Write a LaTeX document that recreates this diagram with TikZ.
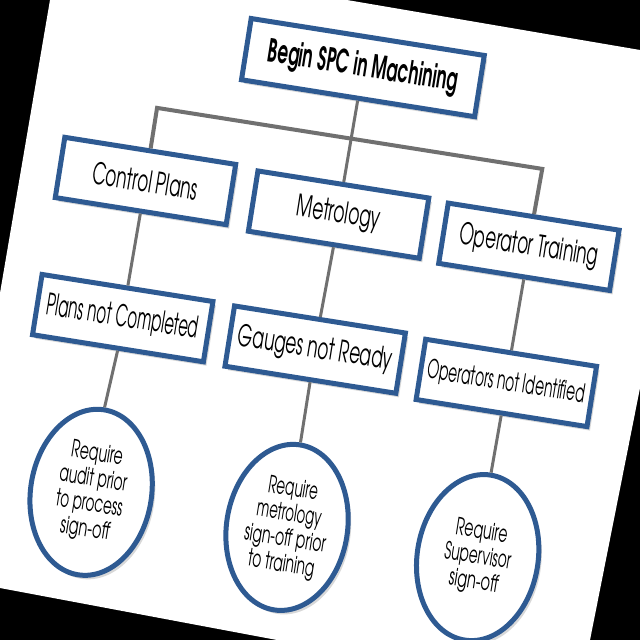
\documentclass[tikz,border=0pt]{standalone}
\usepackage{fontspec}
\usepackage{graphicx}
\newfontfamily\gothic{TeX Gyre Adventor}
\newcommand\fitw[2]{\resizebox{#1bp}{\height}{#2}}
\usetikzlibrary{shapes.geometric,shadows}
\definecolor{boxblue}{RGB}{46,90,146}
\definecolor{linegray}{RGB}{112,112,112}
\begin{document}
\begin{tikzpicture}[x=1bp,y=-1bp,
  shad/.style={drop shadow={shadow xshift=3bp,shadow yshift=-4bp,opacity=0.3}},
  box/.style={draw=boxblue,line width=5bp,fill=white,rectangle,inner sep=2bp,
    minimum width=173bp,minimum height=61bp,transform shape,shad,
    font=\gothic\fontsize{30}{32}\selectfont},
  topbox/.style={box,minimum width=236bp,minimum height=62bp,
    font=\gothic\bfseries\fontsize{32}{34}\selectfont},
  smallbox/.style={box,font=\gothic\fontsize{26}{28}\selectfont},
  oval/.style={draw=boxblue,line width=5bp,fill=white,ellipse,inner sep=0pt,
    minimum width=121bp,minimum height=167bp,transform shape,shad,align=center,
    font=\gothic\fontsize{24}{25.5}\selectfont},
  conn/.style={draw=linegray,line width=3bp},
  barline/.style={draw=linegray,line width=4bp,line join=miter}]
\useasboundingbox (0,0) rectangle (640,640);
\fill[black] (0,0) rectangle (640,640);
\fill[white] (50,0) -- (347,0) -- (640,50) -- (640,388) -- (590,640)
  -- (277,640) -- (0,588) -- (0,293) -- cycle;
\begin{scope}[rotate=-9]
  \coordinate (barL) at (172,82);
  \coordinate (barR) at (562,82);
  \node[topbox] (title) at (369,10) {\fitw{192}{Begin SPC in Machining}};
  \node[box] (cp)  at (172,156) {\fitw{106}{Control Plans}};
  \node[box] (met) at (368,159) {\fitw{84}{Metrology}};
  \node[box] (ot)  at (561,161) {\fitw{140}{Operator Training}};
  \node[box] (pnc) at (171,295) {\fitw{153}{Plans not Completed}};
  \node[box] (gnr) at (366,296) {\fitw{156}{Gauges not Ready}};
  \node[smallbox] (oni) at (560,299) {\fitw{159}{Operators not Identified}};
  \node[oval] (c1) at (167,472) {\fitw{52}{Require}\\\fitw{68}{audit prior}\\
    \fitw{67}{to process}\\\fitw{50}{sign-off}};
  \node[oval] (c2) at (366,476) {\fitw{50}{Require}\\\fitw{65}{metrology}\\
    \fitw{82}{sign-off prior}\\\fitw{67}{to training}};
  \node[oval] (c3) at (559,476) {\fitw{52}{Require}\\\fitw{67}{Supervisor}\\
    \fitw{50}{sign-off}};
  \draw[barline] (cp.north) -- (barL) -- (barR) -- (ot.north);
  \draw[conn] (title.south) -- (met.north);
  \draw[conn] (cp.south) -- (pnc.north);
  \draw[conn] (met.south) -- (gnr.north);
  \draw[conn] (ot.south) -- (oni.north);
  \draw[conn] (pnc.south) -- (c1.north);
  \draw[conn] (gnr.south) -- (c2.north);
  \draw[conn] (oni.south) -- (c3.north);
\end{scope}
\end{tikzpicture}
\end{document}
